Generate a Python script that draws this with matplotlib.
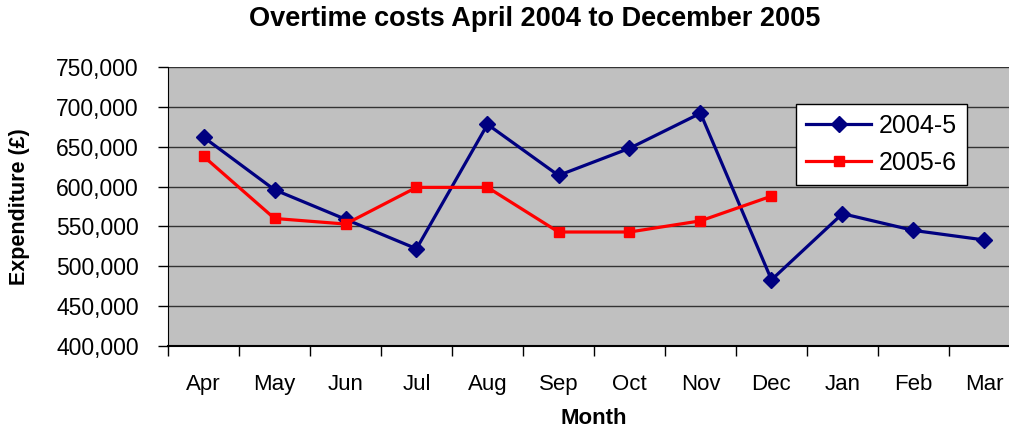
import matplotlib.pyplot as plt
from matplotlib import rcParams
from matplotlib.ticker import FuncFormatter, MultipleLocator
import numpy as np

rcParams.update({'font.family': 'Liberation Sans'})

months = ['Apr', 'May', 'Jun', 'Jul', 'Aug', 'Sep', 'Oct', 'Nov', 'Dec', 'Jan', 'Feb', 'Mar']
cost_2004_5 = [662000, 596000, 559000, 522000, 678000, 614000, 648000, 692000,
               483000, 566000, 545000, 533000]
cost_2005_6 = [638000, 560000, 553000, 599000, 599000, 543000, 543000, 557000, 588000]

fig = plt.figure(figsize=(10.09, 4.28), dpi=100)
ax = fig.add_axes([168 / 1009, 82 / 428, 852 / 1009, 279 / 428])
ax.set_facecolor('#C0C0C0')

x1 = np.arange(len(cost_2004_5))
x2 = np.arange(len(cost_2005_6))
ax.plot(x1, cost_2004_5, color='#000080', lw=2.3, marker='D', markersize=8,
        label='2004-5', zorder=3)
ax.plot(x2, cost_2005_6, color='#FF0000', lw=2.3, marker='s', markersize=7.5,
        label='2005-6', zorder=3)

ax.set_xlim(-0.5, len(months) - 0.5)
ax.set_ylim(400000, 750000)
ax.yaxis.set_major_locator(MultipleLocator(50000))
ax.yaxis.set_major_formatter(FuncFormatter(lambda v, p: f'{int(v):,}'))
ax.grid(axis='y', color='#333333', lw=1.0)
ax.set_axisbelow(True)

ax.set_xticks(np.arange(-0.5, len(months), 1.0))
ax.set_xticklabels([])
ax.set_xticks(x1, minor=True)
ax.set_xticklabels(months, minor=True)
ax.tick_params(axis='x', which='major', length=7, width=1, direction='out')
ax.tick_params(axis='x', which='minor', length=0, pad=20, labelsize=16)
ax.tick_params(axis='y', length=7, width=1, direction='out', labelsize=16.5, pad=14)

for s in ['top', 'right']:
    ax.spines[s].set_visible(False)
ax.spines['left'].set_color('black')
ax.spines['bottom'].set_color('black')
ax.spines['bottom'].set_linewidth(1.5)

fig.text(535 / 1009, 1 - 19 / 428, 'Overtime costs April 2004 to December 2005',
         ha='center', va='center', fontsize=19.5, fontweight='bold')
fig.text(594 / 1009, 1 - 418 / 428, 'Month', ha='center', va='center',
         fontsize=16, fontweight='bold')
fig.text(20 / 1009, 1 - 207 / 428, 'Expenditure (£)', ha='center', va='center',
         rotation=90, fontsize=15.5, fontweight='bold')

leg = ax.legend(loc='upper left', bbox_to_anchor=(796 / 1009, 1 - 104 / 428),
                bbox_transform=fig.transFigure, fontsize=18, frameon=True,
                fancybox=False, edgecolor='black', framealpha=1,
                borderpad=0.4, borderaxespad=0, handlelength=2.6,
                handletextpad=0.3, labelspacing=0.5)
leg.get_frame().set_linewidth(1)

fig.savefig('out.png', dpi=100)
